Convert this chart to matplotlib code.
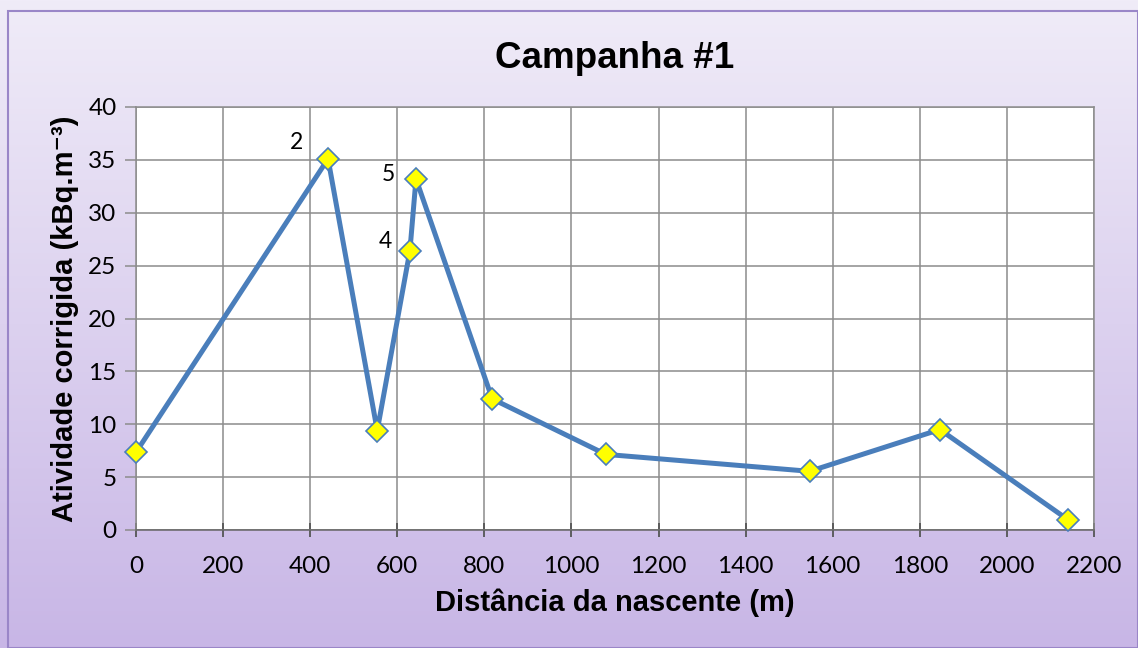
import numpy as np
import matplotlib.pyplot as plt
from matplotlib.patches import Rectangle

# dados
distancia = [0, 441, 554, 629, 643, 818, 1079, 1547, 1846, 2141]
atividade = [7.35, 35.1, 9.4, 26.4, 33.2, 12.4, 7.15, 5.55, 9.5, 0.95]
rotulos = {1: "2", 3: "4", 4: "5"}
rotulo_offset = {1: (-23, 12), 3: (-18, 7), 4: (-20, 3)}
xticks = list(range(0, 2201, 200))
yticks = list(range(0, 41, 5))

plt.rcParams['font.family'] = ['Lato', 'DejaVu Sans']
arial = ['Liberation Sans', 'DejaVu Sans']

fig = plt.figure(figsize=(11.38, 6.48), dpi=100)

# fundo em gradiente
bg = fig.add_axes([0, 0, 1, 1], zorder=-10)
top = np.array([0xF0, 0xEC, 0xF8]) / 255
bot = np.array([0xC8, 0xB6, 0xE6]) / 255
t = np.linspace(0, 1, 256)[:, None]
grad = top + (bot - top) * t
bg.imshow(grad[:, None, :], aspect='auto', extent=[0, 1, 0, 1])
bg.axis('off')
fig.patches.append(Rectangle((8 / 1138, 0), 1 - 8 / 1138, 1 - 10 / 648 - 0.001,
                             transform=fig.transFigure, fill=False,
                             edgecolor='#9A86C8', lw=1.5, zorder=-5))

ax = fig.add_axes([136 / 1138, 1 - 530 / 648, (1094 - 136) / 1138, (530 - 107) / 648])
ax.set_facecolor('white')
ax.plot(distancia, atividade, color='#4A7EBB', lw=3.6, marker='D', markersize=11,
        markerfacecolor='#FFFF00', markeredgecolor='#4A7EBB', markeredgewidth=1.2,
        zorder=3, clip_on=False)
for i, txt in rotulos.items():
    ax.annotate(txt, (distancia[i], atividade[i]), xytext=rotulo_offset[i],
                textcoords='offset points', ha='center', va='center', fontsize=16.5)

ax.set_xlim(0, 2200)
ax.set_ylim(0, 40)
ax.set_xticks(xticks)
ax.set_yticks(yticks)
ax.grid(True, color='#8C8C8C', lw=1.1)
ax.set_axisbelow(True)
for s in ax.spines.values():
    s.set_color('#8C8C8C')
    s.set_linewidth(1.1)
ax.spines['bottom'].set_color('#666666')
ax.tick_params(axis='x', direction='inout', length=10, width=1.3, color='#555555',
               labelsize=17.5, pad=14)
ax.tick_params(axis='y', direction='out', length=8, width=1.1, color='#8C8C8C',
               labelsize=17.5, pad=6)

ax.set_title('Campanha #1', fontsize=26.5, fontweight='bold', family=arial, pad=28)
ax.set_xlabel('Distância da nascente (m)', fontsize=21, fontweight='bold',
              family=arial, labelpad=8)
ax.set_ylabel('Atividade corrigida (kBq.m⁻³)', fontsize=21, fontweight='bold',
              family=arial, labelpad=7)

fig.savefig('out.png', dpi=100)
